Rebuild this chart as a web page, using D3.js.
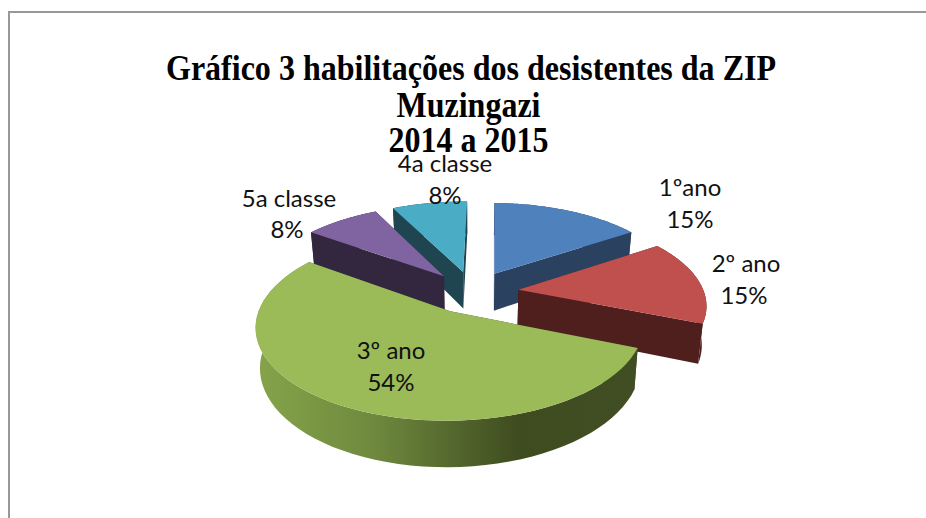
<!DOCTYPE html>
<html>
<head>
<meta charset="utf-8">
<script src="https://cdn.jsdelivr.net/npm/d3@7/dist/d3.min.js"></script>
<style>
html,body{margin:0;padding:0;background:#fff;overflow:hidden}
svg{display:block}
</style>
</head>
<body>
<svg id="chart" width="926" height="518"></svg>
<script>
const titleLines = ["Gráfico 3 habilitações dos desistentes da ZIP", "Muzingazi", "2014 a 2015"];
const categories = ["1ºano", "2º ano", "3º ano", "5a classe", "4a classe"];
const values = [15.4, 15.4, 53.8, 7.7, 7.7];
const topColors = ["#4f81bd", "#c0504d", "#9bbb59", "#8064a2", "#4bacc6"];
const wallColors = ["#2a4260", "#4f1f1e", "#3f4a20", "#33263f", "#1f4551"];

// layout constants, not data
const px = 473, py = 292, A = 185.5, B = 86.5, k = 0.15, explode = 0.247;
const depth = 38, shrink = 0.98, firstAngle = 1 * Math.PI / 180;
const labelPos = [[690,196],[746,272],[391,359],[289,207],[445,172]];
const valuePos = [[690,228],[744,304],[391,391],[287,238],[445,204]];
const titleY = [80, 117, 152], titleX = [471, 468.5, 468.5], titleSquash = 0.915;

const svg = d3.select("#chart");
const defs = svg.append("defs");
const grad = defs.append("linearGradient").attr("id","greenWall").attr("gradientUnits","userSpaceOnUse")
  .attr("x1",257).attr("x2",640).attr("y1",0).attr("y2",0);
[[0,"#85a34a"],[0.3,"#6f8a3e"],[0.68,"#3f4c20"],[1,"#414d22"]].forEach(s=>
  grad.append("stop").attr("offset",s[0]).attr("stop-color",s[1]));

svg.append("path").attr("d","M9,518V12H926").attr("fill","none").attr("stroke","#989898").attr("stroke-width",2);

const pie = d3.pie().sort(null).startAngle(firstAngle).endAngle(firstAngle + 2*Math.PI);
const arcs = pie(values);

const toScreen = (u,v) => { const w = 1 - k*v; return [px + A*u/w, py + B*v/w, w]; };
const toBase = (u,v) => { const [x,y,w] = toScreen(u,v); return [px + (x-px)*shrink, y + depth/w]; };
const line = d3.line();

const slices = arcs.map((a,i)=>{
  const mid = (a.startAngle+a.endAngle)/2;
  const cu = explode*Math.sin(mid), cv = -explode*Math.cos(mid);
  const rim = d3.range(0,61).map(j=>{
    const t = d3.interpolateNumber(a.startAngle,a.endAngle)(j/60);
    return [cu+Math.sin(t), cv-Math.cos(t)];
  });
  return {i,cu,cv,rim,order:cv};
}).sort((p,q)=>d3.ascending(p.order,q.order));

const g = svg.append("g");
slices.forEach(s=>{
  const wall = s.i===2 ? "url(#greenWall)" : wallColors[s.i];
  const first = s.rim[0], last = s.rim[s.rim.length-1];
  const sg = g.append("g");
  [first,last].forEach(p=>{
    sg.append("path").attr("fill",wallColors[s.i]).attr("d",line([
      toScreen(s.cu,s.cv),toScreen(p[0],p[1]),toBase(p[0],p[1]),toBase(s.cu,s.cv)].map(d=>d.slice(0,2)))+"Z");
  });
  const outer = s.rim.map(p=>toScreen(p[0],p[1]).slice(0,2));
  const base = s.rim.map(p=>toBase(p[0],p[1])).reverse();
  sg.append("path").attr("fill",wall).attr("d",line(outer.concat(base))+"Z");
  sg.append("path").attr("fill",topColors[s.i])
    .attr("d",line([toScreen(s.cu,s.cv).slice(0,2)].concat(outer))+"Z");
});

svg.append("g").selectAll("text").data(titleLines).join("text")
  .attr("transform",(d,i)=>`translate(${titleX[i]},${titleY[i]}) scale(${titleSquash},1)`)
  .attr("text-anchor","middle").attr("font-family","'Liberation Serif'")
  .attr("font-weight","bold").attr("font-size",35).attr("fill","#000").text(d=>d);

const lab = svg.append("g").attr("font-family","Lato").attr("font-size",24).attr("fill","#111").attr("text-anchor","middle");
categories.forEach((c,i)=>{
  lab.append("text").attr("x",labelPos[i][0]).attr("y",labelPos[i][1]).text(c);
  lab.append("text").attr("x",valuePos[i][0]).attr("y",valuePos[i][1]).text(Math.round(values[i])+"%");
});
</script>
</body>
</html>
